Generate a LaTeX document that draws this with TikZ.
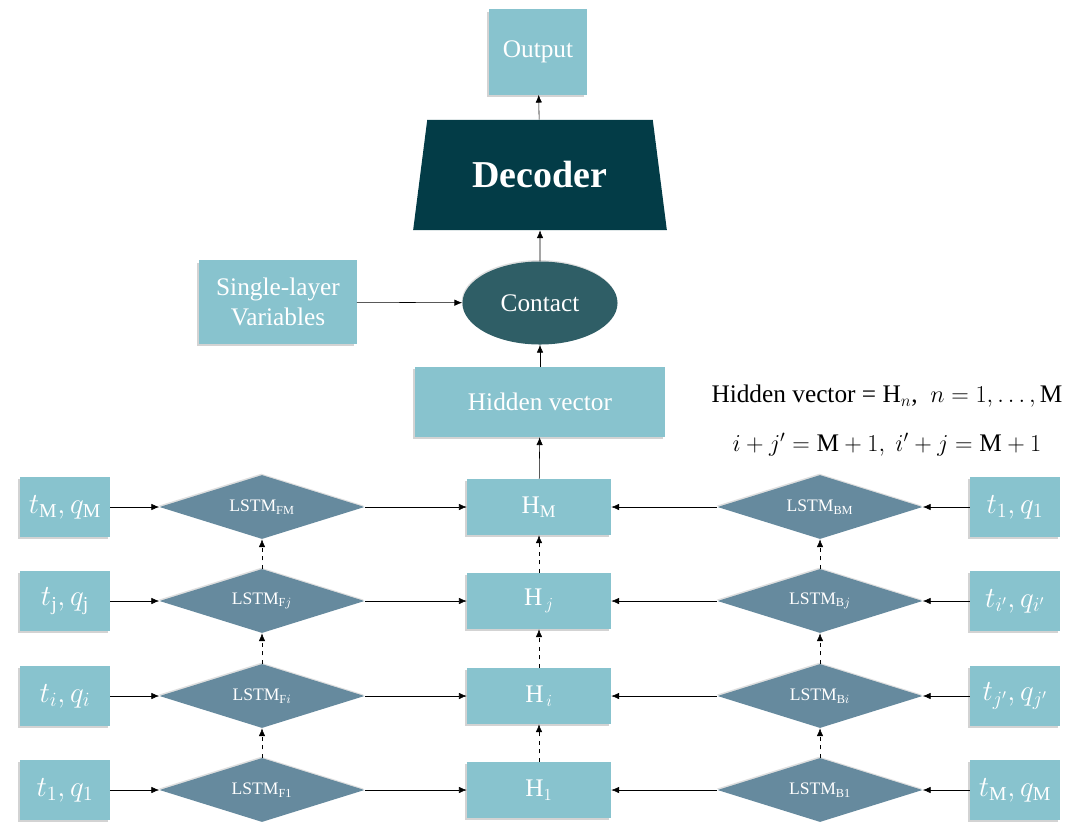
\documentclass[tikz,border=0pt]{standalone}
\usepackage{amsmath}
\usepackage{fontspec}
\setmainfont{Liberation Serif}
\usetikzlibrary{arrows.meta,shapes.geometric,shadows}
\definecolor{boxc}{HTML}{88C3CE}
\definecolor{lstmc}{HTML}{668A9E}
\definecolor{contc}{HTML}{2F5E66}
\definecolor{decc}{HTML}{033C47}
\newcommand{\rmM}{\mathrm{M}}
\tikzset{
  box/.style={fill=boxc, text=white, inner sep=0pt, align=center,
    font=\fontsize{18}{21}\selectfont,
    drop shadow={shadow xshift=-1.5pt, shadow yshift=-1.5pt, opacity=0.35}},
  inbox/.style={box, minimum width=2.25cm, minimum height=1.5cm, font=\fontsize{20}{22}\selectfont},
  hbox/.style={box, minimum width=3.6cm, minimum height=1.4cm},
  lstm/.style={diamond, aspect=3.2, fill=lstmc, text=white, inner sep=0pt,
    minimum width=5.125cm, minimum height=1.6cm, font=\fontsize{12.5}{14}\selectfont,
    drop shadow={shadow xshift=-0.5pt, shadow yshift=1pt, opacity=0.25}},
  arr/.style={-{Latex[length=5.5pt,width=4.5pt]}, thin},
  darr/.style={arr, dashed}
}
\begin{document}
\begin{tikzpicture}[x=0.025cm,y=-0.025cm]
		\useasboundingbox (0,0) rectangle (1079,823);
		%the four rows: forward lstm, hidden state, backward lstm
		\foreach \n/\y/\tl/\fs/\hs/\bs/\tr in {
		    4/507/{t_{\rmM},q_{\rmM}}/{\mathrm{FM}}/{\mathrm{H}_{\rmM}}/{\mathrm{BM}}/{t_1,q_1},
		    3/601/{t_{\mathrm{j}},q_{\mathrm{j}}}/{\mathrm{F}j}/{\mathrm{H}_{\,j}}/{\mathrm{B}j}/{t_{i'},q_{i'}},
		    2/696/{t_i,q_i}/{\mathrm{F}i}/{\mathrm{H}_{\,i}}/{\mathrm{B}i}/{t_{j'},q_{j'}},
		    1/790/{t_1,q_1}/{\mathrm{F1}}/{\mathrm{H}_1}/{\mathrm{B1}}/{t_{\rmM},q_{\rmM}}}{
		  \node [inbox] (inl\n) at (65,\y) {$\tl$};
		  \node [lstm] (lf\n) at (262,\y) {LSTM$_{\fs}$};
		  \node [hbox] (h\n) at (539,\y) {$\hs$};
		  \node [lstm] (lb\n) at (820,\y) {LSTM$_{\bs}$};
		  \node [inbox] (inr\n) at (1015,\y) {$\tr$};
		  \draw [arr] (inl\n) -- (lf\n);
		  \draw [arr] (lf\n) -- (h\n);
		  \draw [arr] (inr\n) -- (lb\n);
		  \draw [arr] (lb\n) -- (h\n);
		}
		\foreach \a/\b in {1/2,2/3,3/4}{
		  \draw [darr] (lf\a) -- (lf\b);
		  \draw [darr] (h\a) -- (h\b);
		  \draw [darr] (lb\a) -- (lb\b);
		}
		%upper part
		\node [box, minimum width=6.25cm, minimum height=1.75cm] (hv) at (540,402) {Hidden vector};
		\node [ellipse, fill=contc, text=white, minimum width=3.875cm, minimum height=2.075cm,
		  font=\fontsize{18}{21}\selectfont,
		  drop shadow={shadow xshift=-0.5pt, shadow yshift=1pt, opacity=0.25}] (con) at (540,303) {Contact};
		\node [box, minimum width=3.925cm, minimum height=2.075cm] (slv) at (278,302) {Single-layer\\Variables};
		\node [trapezium, trapezium left angle=76, trapezium right angle=76, trapezium stretches=true,
		  fill=decc, text=white, minimum width=6.35cm, minimum height=2.75cm,
		  font=\bfseries\fontsize{27}{30}\selectfont] (dec) at (540,175) {Decoder};
		\node [box, minimum width=2.425cm, minimum height=2.125cm] (out) at (538,52) {Output};
		\draw [arr] (h4) -- (hv);
		\draw [arr] (hv) -- (con);
		\draw [arr] (slv) -- (con);
		\draw [arr] (con) -- (dec);
		\draw [arr] (dec) -- (out);
		%notes
		\node [font=\fontsize{18}{21}\selectfont] (n1) at (887,396) {Hidden vector = H$_n$,~ $n=1,\ldots,\rmM$};
		\node [font=\fontsize{18}{21}\selectfont] (n2) at (887,445) {$i+j'=\rmM+1,\ i'+j=\rmM+1$};
\end{tikzpicture}
\end{document}
